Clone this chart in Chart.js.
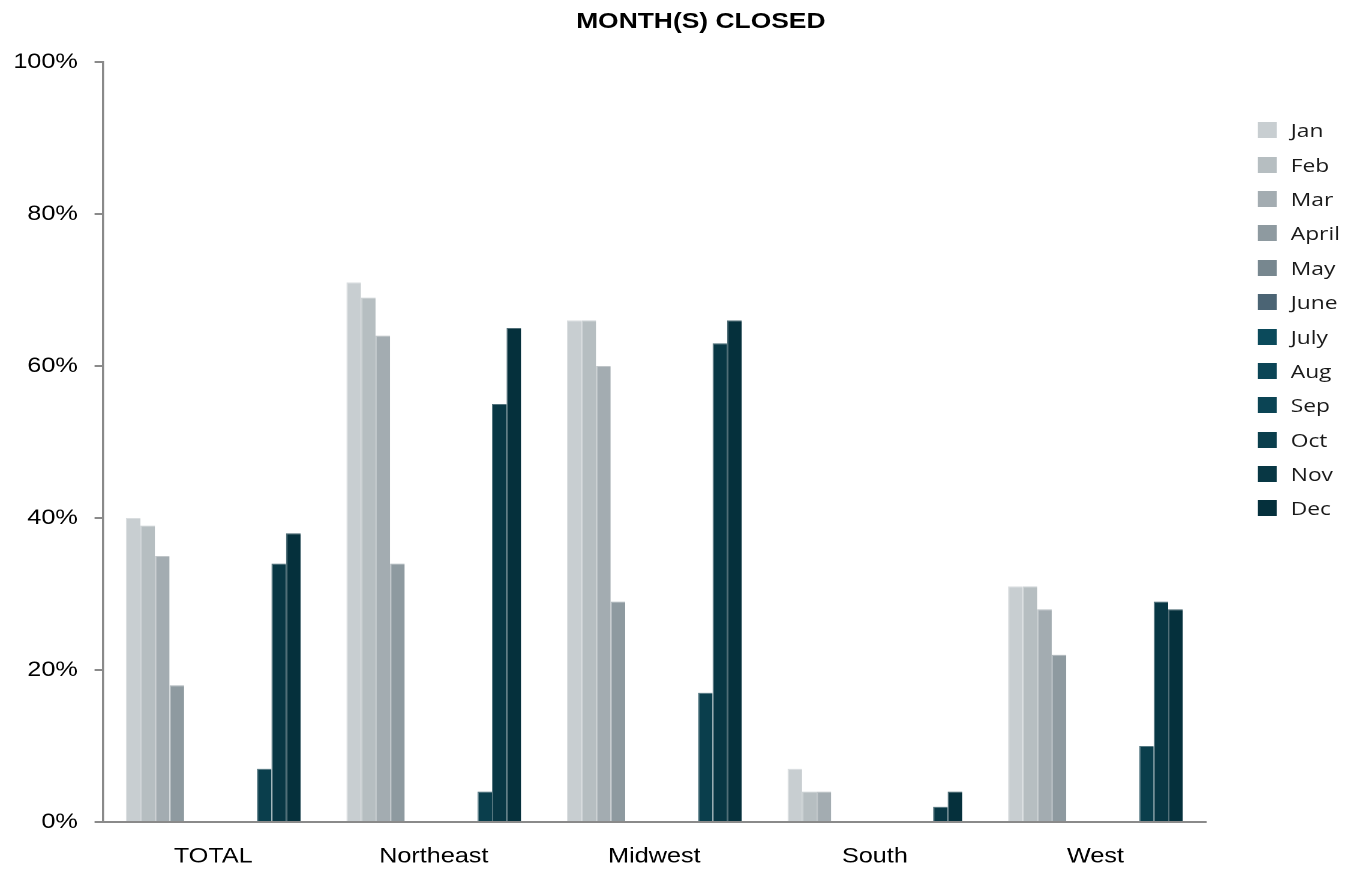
<!DOCTYPE html>
<html>
<head>
<meta charset="utf-8">
<script src="https://cdn.jsdelivr.net/npm/chart.js@4"></script>
<style>
  html, body { margin: 0; padding: 0; background: #fff; overflow: hidden; }
  /* the whole figure is drawn narrow and then stretched sideways */
  #wrap {
    position: absolute; left: 0; top: 0;
    width: 1126px; height: 869px;
    transform: scaleX(1.2); transform-origin: 0 0;
  }
  #title {
    position: absolute; left: 0; top: 8px; width: 1168px;
    text-align: center; white-space: nowrap;
    font-family: Arial, "Liberation Sans", sans-serif; font-weight: bold;
    font-size: 22px; line-height: 26px; color: #000;
  }
  #legend {
    position: absolute; left: 1048px; top: 113px;
    font-family: "Open Sans", sans-serif; font-size: 19px; color: #1a1a1a;
  }
  .item { display: flex; align-items: center; height: 34.4px; }
  .box { width: 16px; height: 16px; margin-right: 11.6px; }
</style>
</head>
<body>
<div id="wrap">
  <canvas id="closedChart"></canvas>
  <div id="title">MONTH(S) CLOSED</div>
  <div id="legend"></div>
</div>
<script>
const regions = ['TOTAL', 'Northeast', 'Midwest', 'South', 'West'];
const months = ['Jan', 'Feb', 'Mar', 'April', 'May', 'June', 'July', 'Aug', 'Sep', 'Oct', 'Nov', 'Dec'];

// share of respondents closed in each month, per region (%)
const jan = [40, 71, 66, 7, 31];
const feb = [39, 69, 66, 4, 31];
const mar = [35, 64, 60, 4, 28];
const apr = [18, 34, 29, 0, 22];
const may = [0, 0, 0, 0, 0];
const jun = [0, 0, 0, 0, 0];
const jul = [0, 0, 0, 0, 0];
const aug = [0, 0, 0, 0, 0];
const sep = [0, 0, 0, 0, 0];
const oct = [7, 4, 17, 0, 10];
const nov = [34, 55, 63, 2, 29];
const dec = [38, 65, 66, 4, 28];

const yTicks = [0, 20, 40, 60, 80, 100];

const monthColors = [
    '#c8ced1', '#b6bec1', '#a3acb1', '#8e9aa0', '#77878f', '#4b6474',
    '#0b4a5b', '#0b4556', '#0b4454', '#0a3e4c', '#083744', '#05303c'
];

const series = [jan, feb, mar, apr, may, jun, jul, aug, sep, oct, nov, dec];

function lighten(hex, amount) {
    const n = parseInt(hex.slice(1), 16);
    const mix = c => Math.round(c + (255 - c) * amount);
    return `rgb(${mix(n >> 16)}, ${mix((n >> 8) & 255)}, ${mix(n & 255)})`;
}

function buildLegend() {
    const legend = document.getElementById('legend');
    months.forEach((month, i) => {
        legend.innerHTML += `<div class="item"><span class="box" style="background:${monthColors[i]}"></span>${month}</div>`;
    });
}

function createChart() {
    const ctx = document.getElementById('closedChart').getContext('2d');
    const axisColor = '#8a8a8a';

    new Chart(ctx, {
        type: 'bar',
        data: {
            labels: regions,
            datasets: months.map((month, i) => ({
                label: month,
                data: series[i],
                backgroundColor: monthColors[i],
                borderColor: lighten(monthColors[i], 0.3),
                borderWidth: { left: 1, top: 1, right: 0, bottom: 0 },
                borderSkipped: false,
                categoryPercentage: 0.792,
                barPercentage: 1
            }))
        },
        options: {
            responsive: true,
            maintainAspectRatio: false,
            devicePixelRatio: 2,
            animation: false,
            layout: {
                padding: { left: 0, right: 121.25, top: 62, bottom: 0 }
            },
            plugins: {
                legend: { display: false },
                tooltip: { enabled: false },
                title: { display: false }
            },
            scales: {
                x: {
                    grid: { display: false },
                    border: { display: true, color: axisColor, width: 2 },
                    ticks: {
                        color: '#000',
                        font: { family: 'Arial', size: 21 },
                        padding: 14
                    },
                    afterFit: scale => { scale.height = 47; }
                },
                y: {
                    min: 0,
                    max: 100,
                    afterBuildTicks: scale => {
                        scale.ticks = yTicks.map(v => ({ value: v }));
                    },
                    grid: {
                        drawOnChartArea: false,
                        drawTicks: true,
                        tickLength: 7,
                        color: axisColor,
                        lineWidth: 2
                    },
                    border: { display: true, color: axisColor, width: 1.7 },
                    ticks: {
                        color: '#000',
                        font: { family: 'Arial', size: 21 },
                        padding: 14,
                        callback: value => value + '%'
                    },
                    afterFit: scale => { scale.width = 85.8; }
                }
            }
        }
    });
}

document.addEventListener('DOMContentLoaded', () => {
    buildLegend();
    createChart();
});
</script>
</body>
</html>
